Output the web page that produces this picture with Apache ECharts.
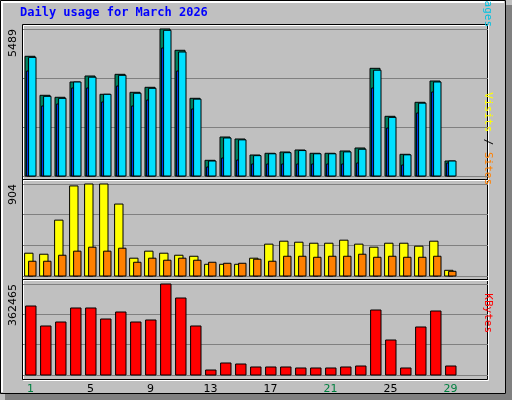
<!DOCTYPE html>
<html>
<head>
<meta charset="utf-8">
<script src="https://cdn.jsdelivr.net/npm/echarts@6/dist/echarts.min.js"></script>
<style>html,body{margin:0;padding:0;background:#c0c0c0}#chart{width:512px;height:400px}</style>
</head>
<body>
<div id="chart"></div>
<script>
// values
var days = [];
for (var d = 1; d <= 31; d++) days.push(String(d));
var weekend = ['1','7','8','14','15','21','22','28','29'];

var hits  = [4470,3013,2939,3510,3734,3051,3797,3125,3312,5489,4694,2901,586,1456,1382,784,848,896,971,848,848,934,1046,4021,2229,810,2752,3547,560,0,0];
var files = [4430,2975,2900,3510,3690,3051,3760,3090,3275,5440,4630,2870,560,1420,1350,760,830,870,950,830,830,900,1000,3950,2190,790,2720,3510,560,0,0];
var pages = [3920,2614,2688,3286,3286,2763,3360,2614,2838,4780,3920,2502,336,672,597,448,448,448,448,448,448,448,485,3286,1792,410,2352,3136,485,0,0];
var visits = [224,214,549,885,904,904,707,175,244,224,204,194,115,115,115,175,313,342,332,322,322,352,313,283,322,322,293,342,56,0,0];
var sites  = [145,145,204,244,283,244,273,135,175,155,175,155,135,125,125,165,145,194,194,184,194,194,214,184,194,184,184,194,46,0,0];
var kbytes = [274800,195200,211100,266900,266900,223000,250900,211100,219100,362465,306700,195200,19900,47800,43800,31900,31900,31900,27900,27900,27900,31900,35800,258900,139400,27900,191200,254900,35800,0,0];

var maxTop = 5489, maxMid = 904, maxBot = 362465;

var chart = echarts.init(document.getElementById('chart'));

// draws one bar inside the day band: dx = left offset from band centre, w = width
function barItem(dx, w, color) {
  return function (params, api) {
    var v = api.value(1);
    if (!v) return null;
    var top = api.coord([api.value(0), v]);
    var base = api.coord([api.value(0), 0]);
    return {
      type: 'rect',
      shape: { x: top[0] + dx, y: top[1], width: w, height: base[1] - top[1] },
      style: { fill: color, stroke: '#000', lineWidth: 1 }
    };
  };
}
function series(name, data, idx, dx, w, color) {
  return {
    name: name, type: 'custom', xAxisIndex: idx, yAxisIndex: idx,
    renderItem: barItem(dx, w, color),
    data: data.map(function (v, i) { return [i, v]; })
  };
}

var grids = [
  { left: 23, width: 465, top: 29, height: 147 },
  { left: 23, width: 465, top: 184, height: 92 },
  { left: 23, width: 465, top: 284, height: 91 }
];
var maxes = [maxTop, maxMid, maxBot];

var xAxes = grids.map(function (g, i) {
  return {
    gridIndex: i, type: 'category', data: days,
    axisLine: { show: false }, axisTick: { show: false },
    axisLabel: {
      show: i === 2, fontFamily: 'DejaVu Sans', fontSize: 11, margin: 9,
      formatter: function (v) { return weekend.indexOf(v) >= 0 ? '{w|' + v + '}' : '{n|' + v + '}'; },
      rich: { w: { color: '#008040', fontSize: 11 }, n: { color: '#000', fontSize: 11 } }
    }
  };
});
var yAxes = grids.map(function (g, i) {
  var m = maxes[i];
  return {
    gridIndex: i, type: 'value', min: 0, max: m, interval: m / 3,
    axisLine: { show: false }, axisTick: { show: false },
    splitLine: { lineStyle: { color: '#808080', width: 1 } },
    axisLabel: {
      rotate: 90, color: '#000', fontFamily: 'DejaVu Sans', fontSize: 11, margin: 4,
      verticalAlign: 'bottom', align: 'right',
      formatter: function (v) { return v === m ? String(m) : ''; }
    }
  };
});

var frameGrids = grids.map(function (g) {
  return {
    left: g.left, top: g.top - 4, width: g.width, height: g.height + 4,
    show: true, backgroundColor: 'transparent', borderColor: '#000', borderWidth: 1
  };
});

chart.setOption({
  animation: false,
  backgroundColor: '#c0c0c0',
  grid: grids.map(function (g) { return { left: g.left, width: g.width, top: g.top, height: g.height }; }),
  xAxis: xAxes,
  yAxis: yAxes,
  series: [
    series('Hits', hits, 0, -5.5, 10, '#008060'),
    series('Pages', pages, 0, -3.9, 3, '#0040ff'),
    series('Files', files, 0, -1.9, 7.4, '#00e0ff'),
    series('Visits', visits, 1, -5.9, 8.4, '#ffff00'),
    series('Sites', sites, 1, -1.9, 7.4, '#ff8000'),
    series('KBytes', kbytes, 2, -4.9, 10.4, '#ff0000')
  ],
  graphic: [
    { type: 'rect', shape: { x: 0.5, y: 0.5, width: 505, height: 393 }, style: { fill: 'none', stroke: '#000' }, silent: true },
    { type: 'rect', shape: { x: 506, y: 5, width: 6, height: 395 }, style: { fill: '#808080' }, silent: true },
    { type: 'rect', shape: { x: 5, y: 394, width: 507, height: 6 }, style: { fill: '#808080' }, silent: true },
    { type: 'polyline', shape: { points: [[2, 392], [2, 2], [504, 2]] }, style: { stroke: '#fff', fill: 'none', lineWidth: 2 }, silent: true },
    { type: 'rect', shape: { x: 23.5, y: 25.5, width: 465, height: 355 }, style: { fill: 'none', stroke: '#fff', lineWidth: 1 }, silent: true },
    { type: 'rect', shape: { x: 22.5, y: 24.5, width: 465, height: 355 }, style: { fill: 'none', stroke: '#000', lineWidth: 1 }, silent: true },
    { type: 'line', shape: { x1: 23, y1: 179.5, x2: 488, y2: 179.5 }, style: { stroke: '#000' }, silent: true },
    { type: 'line', shape: { x1: 23, y1: 180.5, x2: 488, y2: 180.5 }, style: { stroke: '#fff' }, silent: true },
    { type: 'line', shape: { x1: 23, y1: 279.5, x2: 488, y2: 279.5 }, style: { stroke: '#000' }, silent: true },
    { type: 'line', shape: { x1: 23, y1: 280.5, x2: 488, y2: 280.5 }, style: { stroke: '#fff' }, silent: true },
    { type: 'text', left: 20, top: 7, style: { text: 'Daily usage for March 2026', fill: '#0000ff', font: 'bold 12px "DejaVu Sans Mono"' } },
    {
      type: 'text', x: 493, y: 27, rotation: -Math.PI / 2,
      style: { text: '{h|Hits}{s| / }{f|Files}{s| / }{p|Pages}', font: '11px "DejaVu Sans Mono"', align: 'right', verticalAlign: 'top',
        rich: { h: { fill: '#008060' }, s: { fill: '#000' }, f: { fill: '#0040ff' }, p: { fill: '#00c0e0' } } }
    },
    {
      type: 'text', x: 493, y: 185, rotation: -Math.PI / 2,
      style: { text: '{v|Visits}{s| / }{t|Sites}', font: '11px "DejaVu Sans Mono"', align: 'right', verticalAlign: 'top',
        rich: { v: { fill: '#ffff00' }, s: { fill: '#000' }, t: { fill: '#ff8000' } } }
    },
    {
      type: 'text', x: 493, y: 333, rotation: -Math.PI / 2,
      style: { text: 'KBytes', fill: '#ff0000', font: '11px "DejaVu Sans Mono"', align: 'right', verticalAlign: 'top' }
    }
  ]
});
</script>
</body>
</html>
